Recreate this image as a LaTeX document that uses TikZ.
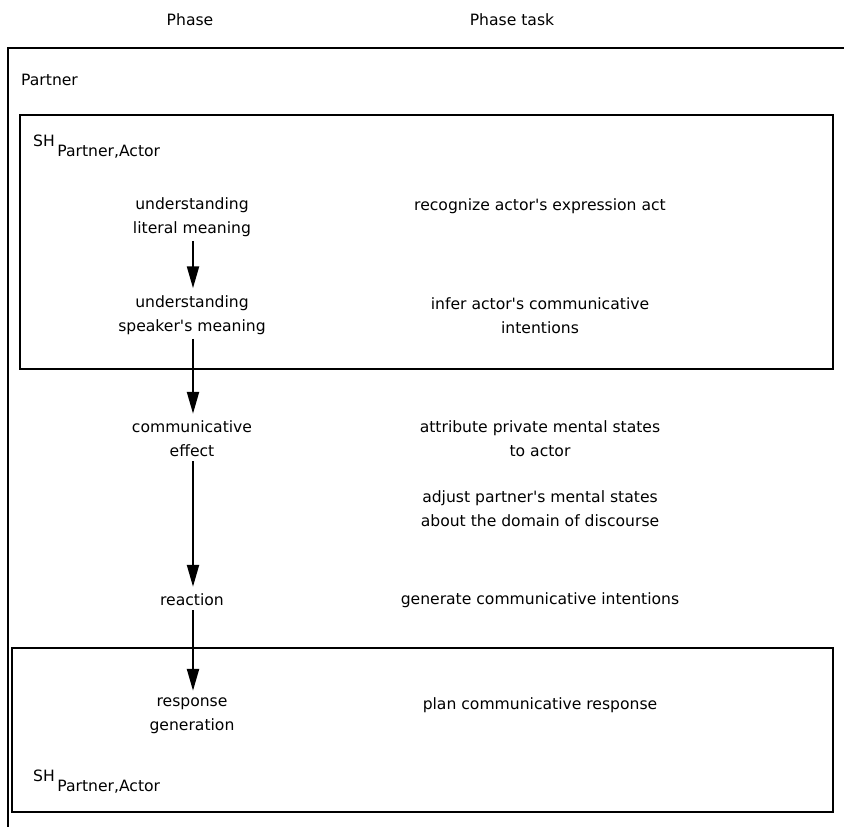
\documentclass[tikz,border=0pt]{standalone}
\usepackage{fontspec}
\setmainfont{DejaVu Sans}
\usetikzlibrary{arrows.meta}
\newcommand{\apo}{\textquotesingle}
\begin{document}
\begin{tikzpicture}[x=1pt,y=-1pt,
  txt/.style={font=\fontsize{15.6}{24}\selectfont, align=center, inner sep=2pt},
  ltxt/.style={font=\fontsize{15.6}{24}\selectfont, anchor=west, inner sep=0pt},
  frame/.style={line width=2.2pt},
  arr/.style={line width=2.2pt, -{Triangle[length=22pt,width=12pt]}, shorten >=5pt, shorten <=2pt}]
\useasboundingbox (0,0) rectangle (844,827);
% headers
\node[txt] (hphase) at (190,20) {Phase};
\node[txt] (htask) at (512,20) {Phase task};
% outer frame (open to right and bottom)
\draw[frame] (844,48) -- (8,48) -- (8,827);
\node[ltxt] (partner) at (21,80) {Partner};
% shared-history boxes
\draw[frame] (20,115) rectangle (833,369);
\draw[frame] (12,648) rectangle (833,812);
\node[ltxt] (sh1) at (33,147) {SH\,\raisebox{-10pt}{Partner,Actor}};
\node[ltxt] (sh2) at (33,782) {SH\,\raisebox{-10pt}{Partner,Actor}};
% phases
\node[txt] (lit) at (192,217) {understanding\\literal meaning};
\node[txt] (spk) at (192,315) {understanding\\speaker\apo s meaning};
\node[txt] (eff) at (192,439) {communicative\\effect};
\node[txt] (rea) at (192,600) {reaction};
\node[txt] (resp) at (192,716) {response\\generation};
% tasks
\node[txt] (t1) at (540,206) {recognize actor\apo s expression act};
\node[txt] (t2) at (540,316) {infer actor\apo s communicative\\intentions};
\node[txt] (t3) at (540,439) {attribute private mental states\\to actor};
\node[txt] (t4) at (540,509) {adjust partner\apo s mental states\\about the domain of discourse};
\node[txt] (t5) at (540,600) {generate communicative intentions};
\node[txt] (t6) at (540,705) {plan communicative response};
% arrows
\draw[arr] (lit.south -| 193,0) -- (spk.north -| 193,0);
\draw[arr] (spk.south -| 193,0) -- (eff.north -| 193,0);
\draw[arr] (eff.south -| 193,0) -- (rea.north -| 193,0);
\draw[arr] (rea.south -| 193,0) -- (resp.north -| 193,0);
\end{tikzpicture}
\end{document}
